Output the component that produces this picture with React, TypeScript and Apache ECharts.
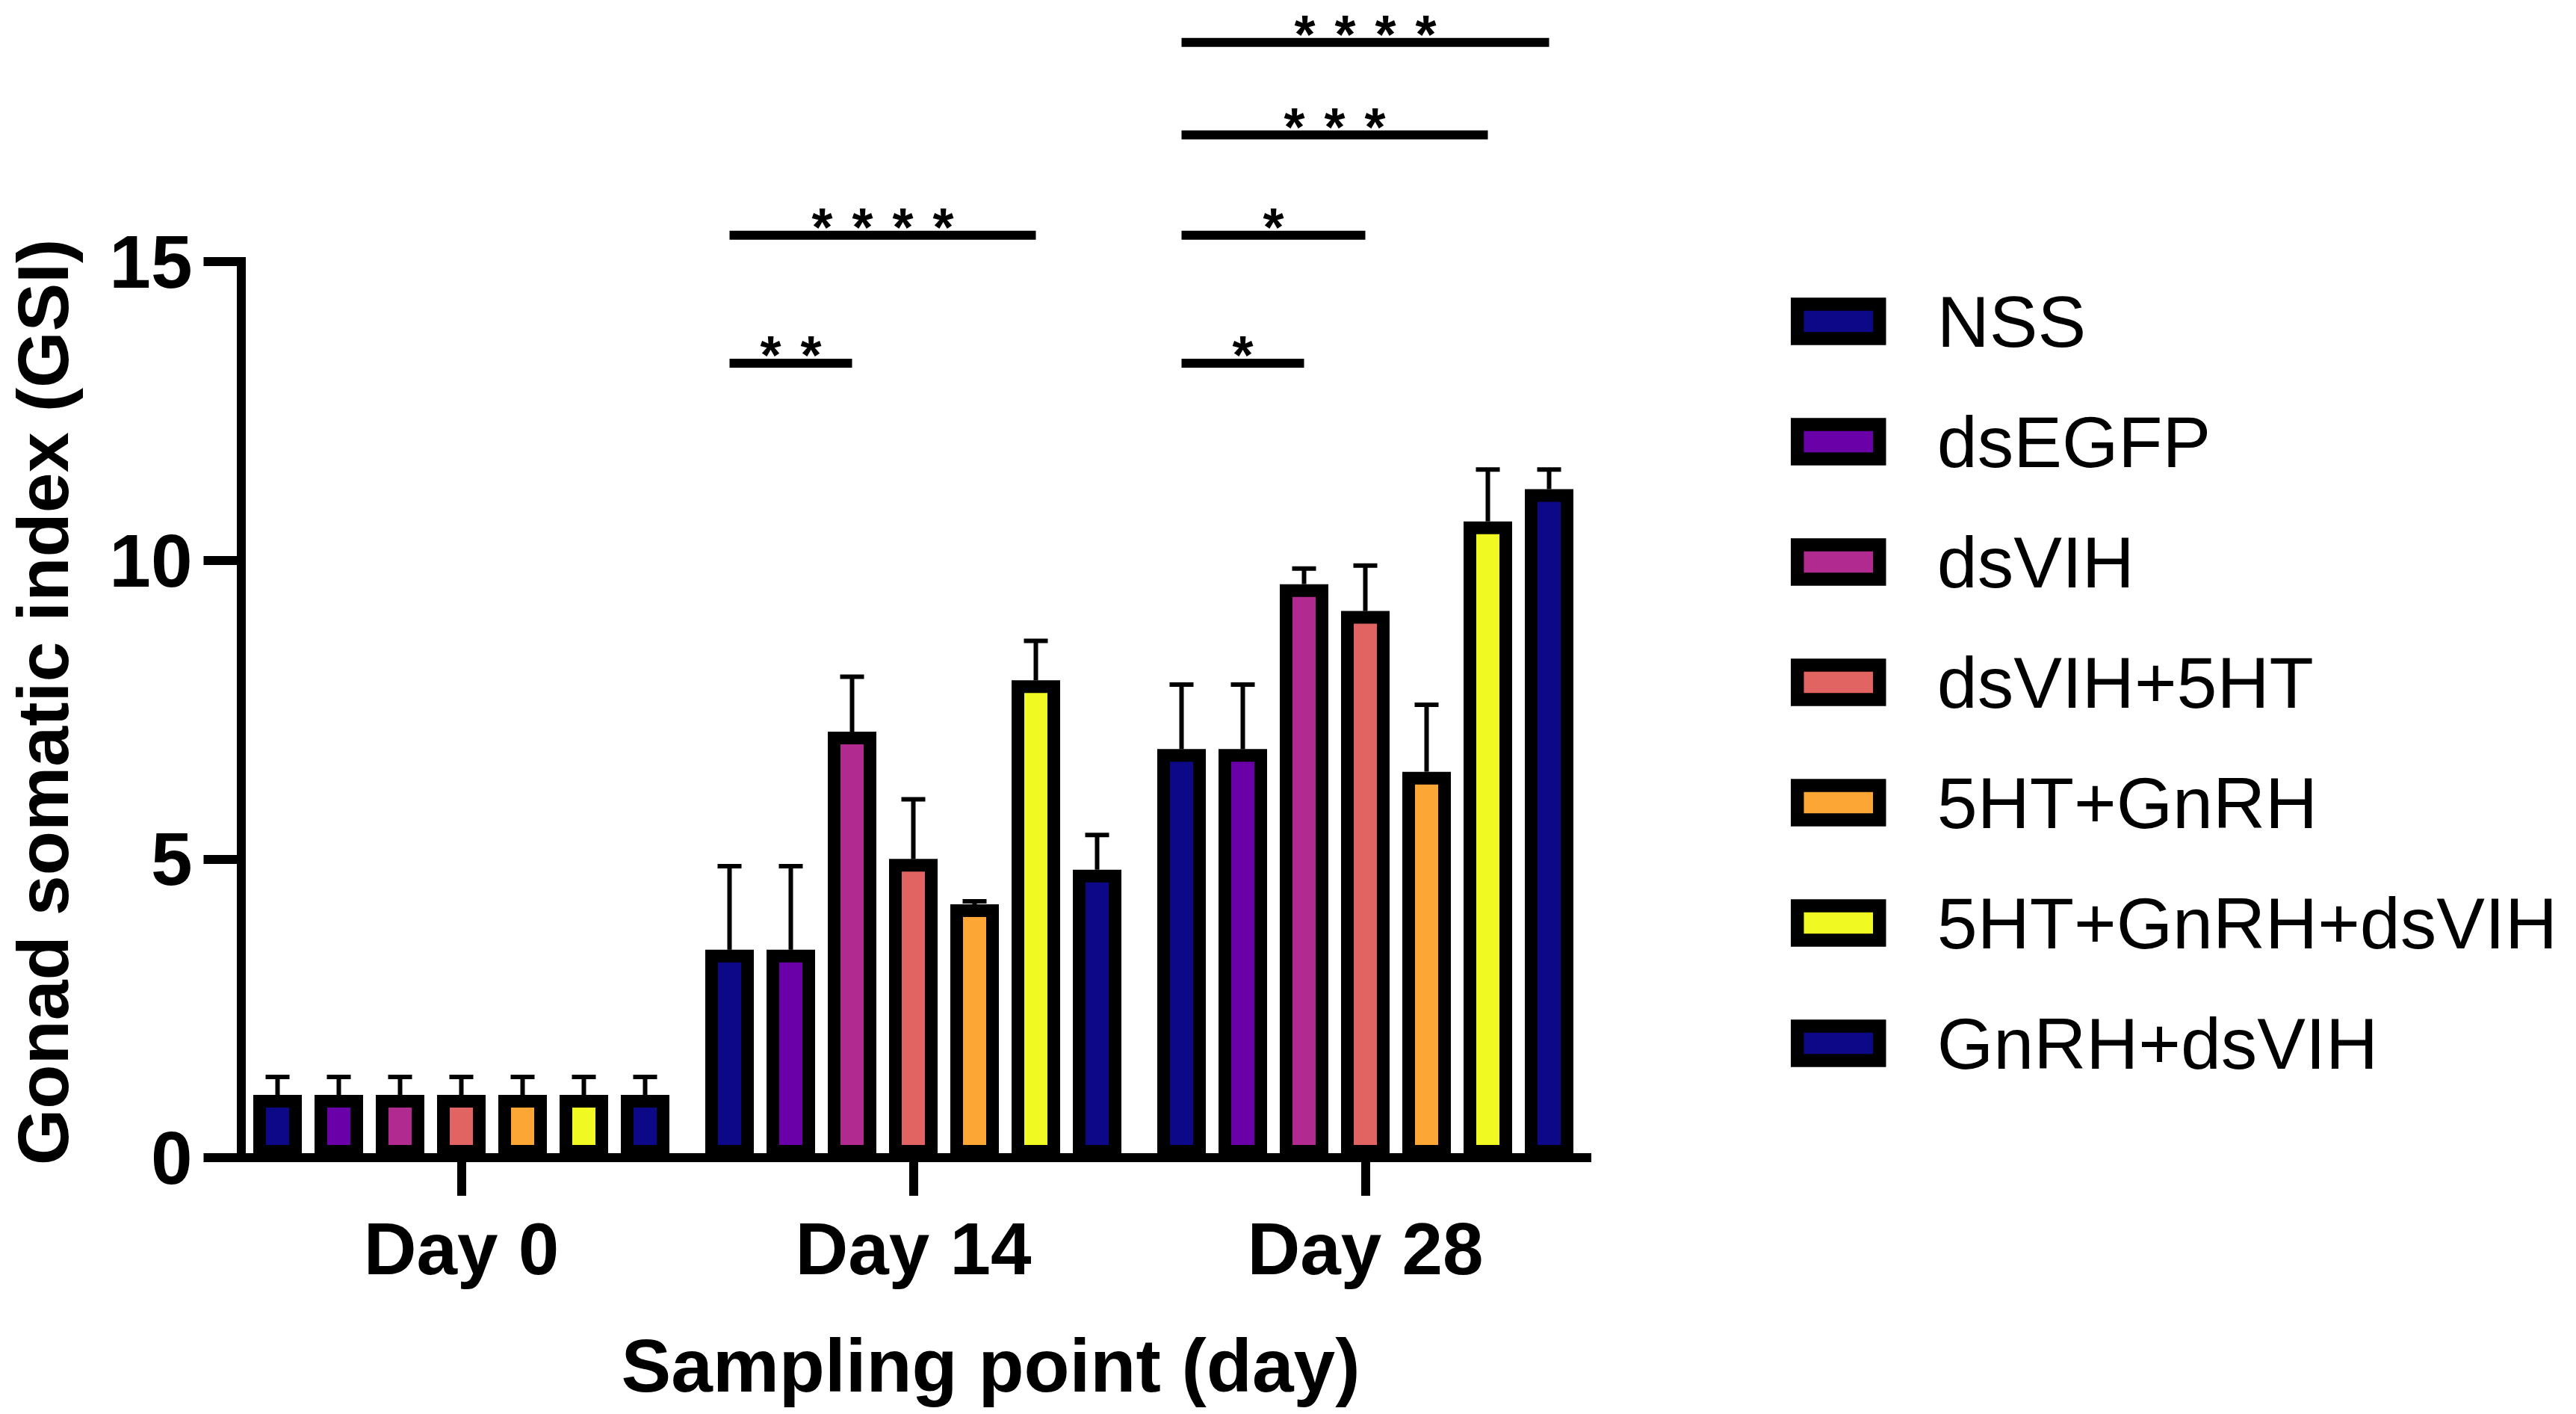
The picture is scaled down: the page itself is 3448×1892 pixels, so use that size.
import React, { useEffect, useRef } from "react";
import * as echarts from "echarts";

// ---------- data ----------
const categories = ["Day 0", "Day 14", "Day 28"];
const groupNames = [
  "NSS",
  "dsEGFP",
  "dsVIH",
  "dsVIH+5HT",
  "5HT+GnRH",
  "5HT+GnRH+dsVIH",
  "GnRH+dsVIH",
];
const groupColors = ["#0d0887", "#6a00a8", "#b12a90", "#e16462", "#fca636", "#f0f921", "#0d0887"];

// means per group: [Day 0, Day 14, Day 28]
const meanNSS = [1.05, 3.48, 6.84];
const meanDsEGFP = [1.05, 3.48, 6.84];
const meanDsVIH = [1.05, 7.13, 9.6];
const meanDsVIH5HT = [1.05, 5.0, 9.15];
const mean5HTGnRH = [1.05, 4.24, 6.46];
const mean5HTGnRHdsVIH = [1.05, 7.99, 10.65];
const meanGnRHdsVIH = [1.05, 4.82, 11.19];

// error (SD) per group
const errNSS = [0.3, 1.4, 1.08];
const errDsEGFP = [0.3, 1.4, 1.08];
const errDsVIH = [0.3, 0.92, 0.26];
const errDsVIH5HT = [0.3, 1.0, 0.76];
const err5HTGnRH = [0.3, 0.05, 1.12];
const err5HTGnRHdsVIH = [0.3, 0.66, 0.87];
const errGnRHdsVIH = [0.3, 0.58, 0.33];

const yTicks = { min: 0, max: 15, interval: 5 };

// significance brackets
const bracketDay = [1, 1, 2, 2, 2, 2];
const bracketFrom = [0, 0, 0, 0, 0, 0];
const bracketTo = [2, 5, 2, 3, 5, 6];
const bracketLevel = [13.3, 15.44, 13.3, 15.44, 17.12, 18.67];
const bracketStars = ["**", "****", "*", "*", "***", "****"];

// ---------- styling constants ----------
const FONT = "'Liberation Sans', Arial, Helvetica, sans-serif";
const BAR_W = 65;
const PITCH = 82;
const BAR_BORDER = 17;
const STAR_GAP = 54;

const means = [meanNSS, meanDsEGFP, meanDsVIH, meanDsVIH5HT, mean5HTGnRH, mean5HTGnRHdsVIH, meanGnRHdsVIH];
const errs = [errNSS, errDsEGFP, errDsVIH, errDsVIH5HT, err5HTGnRH, err5HTGnRHdsVIH, errGnRHdsVIH];

export default function App() {
  const ref = useRef<HTMLDivElement>(null);

  useEffect(() => {
    document.body.style.margin = "0";
    const chart = echarts.init(ref.current!, null, { renderer: "svg" });
    const mid = (groupNames.length - 1) / 2;

    const barSeries = groupNames.map((name, i) => ({
      type: "bar",
      name,
      data: means[i],
      barWidth: BAR_W,
      barGap: ((PITCH - BAR_W) / BAR_W) * 100 + "%",
      itemStyle: { color: groupColors[i], borderColor: "#000", borderWidth: BAR_BORDER },
      z: 2,
    }));

    const errData: number[][] = [];
    groupNames.forEach((_, g) => {
      categories.forEach((_, c) => {
        errData.push([c, g, means[g][c], errs[g][c]]);
      });
    });

    const bracketData = bracketDay.map((d, i) => [
      d,
      bracketFrom[i],
      bracketTo[i],
      bracketLevel[i],
      bracketStars[i].length,
    ]);

    const option = {
      animation: false,
      backgroundColor: "#fff",
      grid: { left: 315, top: 350, width: 1815, height: 1199, containLabel: false },
      legend: {
        data: groupNames,
        orient: "vertical",
        left: 2397,
        top: 381.5,
        padding: 0,
        itemGap: 64,
        itemWidth: 110,
        itemHeight: 46,
        icon: "rect",
        selectedMode: false,
        itemStyle: { borderColor: "#000", borderWidth: 17.5 },
        textStyle: {
          fontFamily: FONT,
          fontSize: 97,
          color: "#000",
          padding: [0, 0, 0, 72],
        },
      },
      xAxis: {
        type: "category",
        data: categories,
        axisLine: { show: true, lineStyle: { color: "#000", width: 12, cap: "butt" } },
        axisTick: { show: true, alignWithLabel: true, length: 51, lineStyle: { color: "#000", width: 12 } },
        axisLabel: {
          fontFamily: FONT,
          fontSize: 98,
          fontWeight: "bold",
          color: "#000",
          margin: 73,
        },
        name: "Sampling point (day)",
        nameLocation: "middle",
        nameGap: 228,
        nameTextStyle: {
          fontFamily: FONT,
          fontSize: 100,
          fontWeight: "bold",
          color: "#000",
          padding: [0, 0, 0, 207],
        },
        splitLine: { show: false },
      },
      yAxis: {
        type: "value",
        min: yTicks.min,
        max: yTicks.max,
        interval: yTicks.interval,
        offset: -7.5,
        axisLine: { show: true, lineStyle: { color: "#000", width: 12, cap: "square" } },
        axisTick: { show: true, length: 50, lineStyle: { color: "#000", width: 12 } },
        axisLabel: {
          fontFamily: FONT,
          fontSize: 100,
          fontWeight: "bold",
          color: "#000",
          margin: 65,
        },
        splitLine: { show: false },
        name: "Gonad somatic index (GSI)",
        nameLocation: "middle",
        nameGap: 217,
        nameTextStyle: {
          fontFamily: FONT,
          fontSize: 97,
          fontWeight: "bold",
          color: "#000",
          padding: [0, 0, 0, 20],
        },
      },
      series: [
        ...barSeries,
        {
          type: "custom",
          name: "error bars",
          data: errData,
          encode: { x: 0, y: 2 },
          clip: false,
          z: 5,
          renderItem: (params: any, api: any) => {
            const c = api.value(0);
            const g = api.value(1);
            const m = api.value(2);
            const e = api.value(3);
            const p0 = api.coord([c, m]);
            const p1 = api.coord([c, m + e]);
            const x = p0[0] + (g - mid) * PITCH;
            return {
              type: "group",
              children: [
                {
                  type: "line",
                  shape: { x1: x, y1: p0[1], x2: x, y2: p1[1] },
                  style: { stroke: "#000", lineWidth: 6, lineCap: "butt" },
                },
                {
                  type: "line",
                  shape: { x1: x - 16, y1: p1[1], x2: x + 16, y2: p1[1] },
                  style: { stroke: "#000", lineWidth: 6, lineCap: "butt" },
                },
              ],
            };
          },
        },
        {
          type: "custom",
          name: "significance",
          data: bracketData,
          encode: { x: 0, y: 3 },
          clip: false,
          z: 5,
          renderItem: (params: any, api: any) => {
            const c = api.value(0);
            const from = api.value(1);
            const to = api.value(2);
            const lvl = api.value(3);
            const n = api.value(4);
            const p = api.coord([c, lvl]);
            const x1 = p[0] + (from - mid) * PITCH;
            const x2 = p[0] + (to - mid) * PITCH;
            const cx = (x1 + x2) / 2;
            const children: any[] = [
              {
                type: "line",
                shape: { x1, y1: p[1], x2, y2: p[1] },
                style: { stroke: "#000", lineWidth: 12, lineCap: "butt" },
              },
            ];
            for (let j = 0; j < n; j++) {
              children.push({
                type: "text",
                style: {
                  text: "*",
                  x: cx + (j - (n - 1) / 2) * STAR_GAP,
                  y: p[1] - 11,
                  fill: "#000",
                  fontFamily: FONT,
                  fontSize: 72,
                  fontWeight: "bold",
                  align: "center",
                  verticalAlign: "middle",
                },
              });
            }
            return { type: "group", children };
          },
        },
      ],
    };

    chart.setOption(option as any);
    return () => chart.dispose();
  }, []);

  return <div ref={ref} style={{ width: 3448, height: 1892 }} />;
}
